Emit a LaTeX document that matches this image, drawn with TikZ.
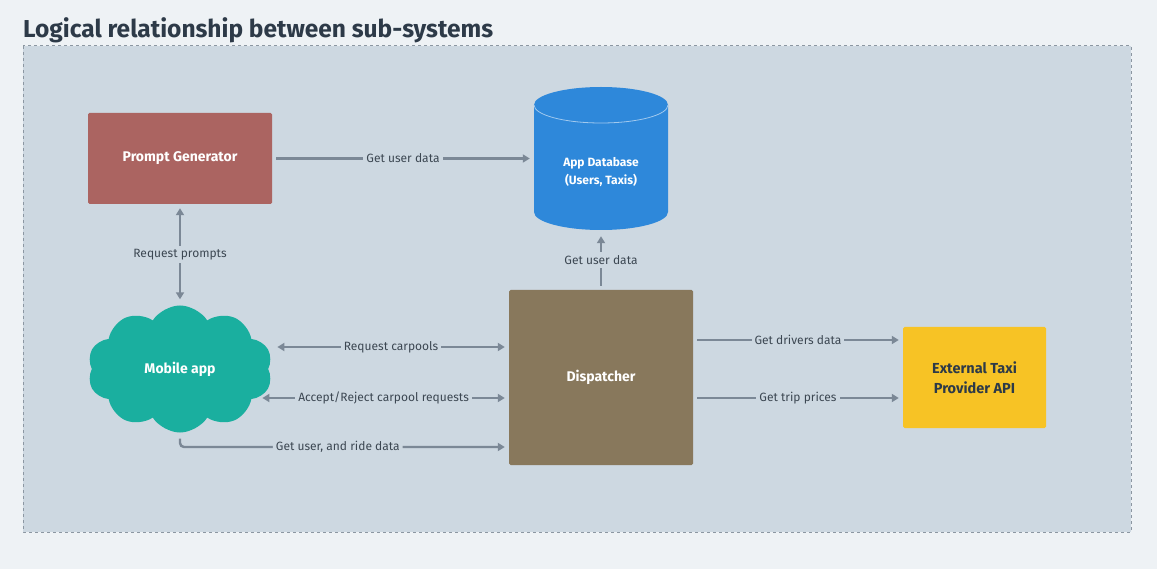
\documentclass[tikz,border=0pt]{standalone}
\usepackage{fontspec}
\setmainfont{Fira Sans}
\usetikzlibrary{arrows.meta,shapes.symbols}
\definecolor{pagebg}{HTML}{EEF2F5}
\definecolor{panelbg}{HTML}{CDD8E1}
\definecolor{panelline}{HTML}{8C97A2}
\definecolor{titlecol}{HTML}{2D3A48}
\definecolor{linkcol}{HTML}{7B8896}
\definecolor{labelcol}{HTML}{3C4752}
\definecolor{promptcol}{HTML}{AB6461}
\definecolor{dbcol}{HTML}{2E88DA}
\definecolor{dispcol}{HTML}{88785C}
\definecolor{extcol}{HTML}{F7C325}
\definecolor{mobcol}{HTML}{1AAF9F}
\tikzset{
  block/.style={rectangle, rounded corners=1.5pt, inner sep=0pt, font=\bfseries\fontsize{14}{16}\selectfont, text=white, align=center},
  link/.style={draw=linkcol, line width=2.4pt, -{Triangle[length=7pt,width=8pt]}, shorten >=4pt, shorten <=4pt},
  both/.style={link, {Triangle[length=7pt,width=8pt]}-{Triangle[length=7pt,width=8pt]}},
  tag/.style={fill=panelbg, inner sep=3pt, text=labelcol, font=\fontsize{12}{14}\selectfont}
}
\begin{document}
\begin{tikzpicture}[x=1pt,y=-1pt]
		% % Page and panel
		 	\useasboundingbox[fill=pagebg] (0,0) rectangle (1157,569);
		 	\node[anchor=base west, inner sep=0pt, text=titlecol, font=\bfseries\fontsize{24.5}{28}\selectfont] (title) at (23,38) {Logical relationship between sub-systems};
		 	\draw[panelline, fill=panelbg, dashed, line width=1pt] (23,46) rectangle (1131,532);
		% % Database drum
		 	\fill[dbcol] (534,105) -- (534,212) arc[start angle=180, end angle=360, x radius=67pt, y radius=18pt] -- (668,105) arc[start angle=0, end angle=180, x radius=67pt, y radius=18pt] -- cycle;
		 	\draw[dbcol!45!white, line width=0.8pt] (534,105) arc[start angle=180, end angle=360, x radius=67pt, y radius=18pt];
		% % Sub-systems
		 	\node[block, fill=promptcol, minimum width=184pt, minimum height=91pt] (pg) at (180,158.5) {Prompt Generator};
		 	\node[minimum width=134pt, minimum height=143pt, inner sep=0pt] (db) at (601,158.5) {};
		 	\node[text=white, align=center, font=\bfseries\fontsize{12}{18}\selectfont] (dbtext) at ([yshift=-14pt]db.center) {App Database\\(Users, Taxis)};
		 	\node[cloud, cloud puffs=10, cloud puff arc=115, fill=mobcol, minimum width=185pt, minimum height=127pt, inner sep=0pt, text=white, font=\bfseries\fontsize{14}{16}\selectfont] (mob) at (180,369) {Mobile app};
		 	\node[block, fill=dispcol, minimum width=184pt, minimum height=175pt] (disp) at (601,377.5) {Dispatcher};
		 	\node[block, fill=extcol, text=titlecol, minimum width=143pt, minimum height=101pt, font=\bfseries\fontsize{14.5}{20}\selectfont] (ext) at (974.5,377.5) {External Taxi\\Provider API};
		% % Links
		 	\draw[link] (pg.east) -- node[tag] {Get user data} (db.west |- pg.east);
		 	\draw[both, shorten >=6pt] (pg.south) -- node[tag] {Request prompts} (mob.north);
		 	\draw[link, shorten >=6pt] (disp.north) -- node[tag] {Get user data} (db.south);
		 	\draw[both] ([xshift=5pt,yshift=30.5pt]mob.east |- disp.west) -- node[tag] {Request carpools} ([yshift=30.5pt]disp.west);
		 	\draw[both] ([xshift=-10pt,yshift=-20.5pt]mob.east |- disp.west) -- node[tag] {Accept/Reject carpool requests} ([yshift=-20.5pt]disp.west);
		 	\draw[link, rounded corners=4pt, shorten <=6pt] (mob.south) |- node[tag, pos=0.74] {Get user, and ride data} ([yshift=-69.5pt]disp.west);
		 	\foreach \dy/\txt in {37.5/Get drivers data, -20.5/Get trip prices}{
  		 		\draw[link] ([yshift=\dy pt]disp.east) -- node[tag] {\txt} ([yshift=\dy pt]ext.west);
		 	}
\end{tikzpicture}
\end{document}
